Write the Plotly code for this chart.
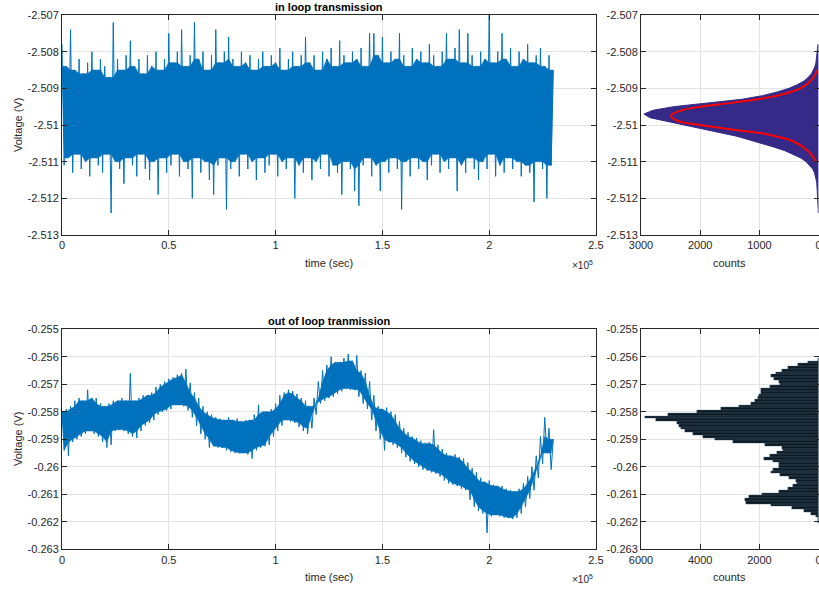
import numpy as np
import plotly.graph_objects as go

# ---------------- data ----------------
time_step_s = 1000  # sample spacing of the plotted series (s)

# in-loop transmission: alternating local maxima (even samples) / minima (odd samples), V
in_peaks = [-2.5078, -2.5084, -2.5074, -2.5085, -2.5082, -2.5086, -2.5083, -2.5080, -2.5085, -2.5082,
            -2.5084, -2.5087, -2.5072, -2.5082, -2.5085, -2.5081, -2.5077, -2.5084, -2.5082, -2.5086,
            -2.5081, -2.5084, -2.5080, -2.5085, -2.5082, -2.5075, -2.5083, -2.5080, -2.5074, -2.5084,
            -2.5081, -2.5072, -2.5082, -2.5080, -2.5085, -2.5081, -2.5074, -2.5083, -2.5080, -2.5076,
            -2.5082, -2.5084, -2.5080, -2.5083, -2.5081, -2.5085, -2.5082, -2.5080, -2.5084, -2.5081,
            -2.5083, -2.5079, -2.5085, -2.5082, -2.5080, -2.5084, -2.5081, -2.5076, -2.5083, -2.5081,
            -2.5085, -2.5080, -2.5082, -2.5079, -2.5084, -2.5077, -2.5081, -2.5083, -2.5080, -2.5082,
            -2.5079, -2.5084, -2.5075, -2.5075, -2.5081, -2.5076, -2.5083, -2.5080, -2.5082, -2.5075,
            -2.5081, -2.5084, -2.5079, -2.5082, -2.5080, -2.5083, -2.5078, -2.5081, -2.5084, -2.5080,
            -2.5075, -2.5082, -2.5079, -2.5074, -2.5083, -2.5075, -2.5081, -2.5084, -2.5080, -2.5082,
            -2.5070, -2.5083, -2.5080, -2.5075, -2.5082, -2.5079, -2.5084, -2.5080, -2.5082, -2.5078,
            -2.5083, -2.5081, -2.5079, -2.5084, -2.5081, -2.5085]
in_troughs = [-2.5111, -2.5109, -2.5113, -2.5108, -2.5112, -2.5110, -2.5114, -2.5109, -2.5111, -2.5113,
              -2.5108, -2.5124, -2.5110, -2.5112, -2.5116, -2.5109, -2.5111, -2.5114, -2.5108, -2.5112,
              -2.5115, -2.5110, -2.5119, -2.5109, -2.5113, -2.5111, -2.5108, -2.5114, -2.5110, -2.5112,
              -2.5120, -2.5109, -2.5113, -2.5110, -2.5115, -2.5119, -2.5111, -2.5109, -2.5123, -2.5112,
              -2.5110, -2.5114, -2.5108, -2.5112, -2.5110, -2.5115, -2.5109, -2.5113, -2.5111, -2.5108,
              -2.5114, -2.5110, -2.5112, -2.5109, -2.5120, -2.5111, -2.5113, -2.5109, -2.5115, -2.5110,
              -2.5112, -2.5108, -2.5114, -2.5111, -2.5113, -2.5119, -2.5110, -2.5112, -2.5118, -2.5122,
              -2.5111, -2.5109, -2.5114, -2.5111, -2.5118, -2.5110, -2.5113, -2.5109, -2.5112, -2.5123,
              -2.5110, -2.5114, -2.5109, -2.5112, -2.5110, -2.5115, -2.5111, -2.5108, -2.5113, -2.5110,
              -2.5112, -2.5109, -2.5118, -2.5111, -2.5113, -2.5109, -2.5112, -2.5115, -2.5110, -2.5112,
              -2.5108, -2.5114, -2.5111, -2.5113, -2.5109, -2.5112, -2.5110, -2.5114, -2.5111, -2.5113,
              -2.5121, -2.5110, -2.5112, -2.5120, -2.5111]

# out-of-loop transmission, V
out_peaks = [-0.25800, -0.25790, -0.25780, -0.25760, -0.25750, -0.25760, -0.25720, -0.25750, -0.25750, -0.25770,
             -0.25780, -0.25770, -0.25760, -0.25760, -0.25750, -0.25760, -0.25660, -0.25760, -0.25750, -0.25740,
             -0.25740, -0.25730, -0.25710, -0.25700, -0.25690, -0.25680, -0.25675, -0.25665, -0.25660, -0.25645,
             -0.25695, -0.25730, -0.25750, -0.25780, -0.25800, -0.25810, -0.25820, -0.25825, -0.25830, -0.25820,
             -0.25830, -0.25825, -0.25835, -0.25830, -0.25830, -0.25810, -0.25775, -0.25800, -0.25800, -0.25790,
             -0.25770, -0.25740, -0.25730, -0.25720, -0.25725, -0.25735, -0.25750, -0.25760, -0.25780, -0.25750,
             -0.25690, -0.25650, -0.25630, -0.25600, -0.25620, -0.25620, -0.25605, -0.25590, -0.25615, -0.25595,
             -0.25650, -0.25660, -0.25690, -0.25740, -0.25780, -0.25790, -0.25785, -0.25800, -0.25810, -0.25835,
             -0.25860, -0.25875, -0.25890, -0.25895, -0.25905, -0.25915, -0.25910, -0.25865, -0.25920, -0.25935,
             -0.25950, -0.25960, -0.25955, -0.25965, -0.25970, -0.25985, -0.26005, -0.26020, -0.26040, -0.26055,
             -0.26050, -0.26065, -0.26070, -0.26070, -0.26080, -0.26085, -0.26090, -0.26080, -0.26060, -0.26035,
             -0.26000, -0.25960, -0.25890, -0.25820, -0.25860, -0.25900]
out_troughs = [-0.25940, -0.25960, -0.25910, -0.25900, -0.25890, -0.25880, -0.25870, -0.25880, -0.25890, -0.25910,
               -0.25930, -0.25920, -0.25870, -0.25865, -0.25870, -0.25880, -0.25890, -0.25895, -0.25870, -0.25850,
               -0.25840, -0.25830, -0.25810, -0.25800, -0.25795, -0.25790, -0.25775, -0.25775, -0.25780, -0.25795,
               -0.25820, -0.25850, -0.25880, -0.25900, -0.25930, -0.25925, -0.25930, -0.25930, -0.25940, -0.25945,
               -0.25950, -0.25950, -0.25950, -0.25955, -0.25970, -0.25940, -0.25930, -0.25925, -0.25920, -0.25890,
               -0.25870, -0.25850, -0.25830, -0.25835, -0.25840, -0.25855, -0.25870, -0.25880, -0.25860, -0.25810,
               -0.25770, -0.25760, -0.25750, -0.25745, -0.25735, -0.25725, -0.25715, -0.25720, -0.25720, -0.25745,
               -0.25770, -0.25790, -0.25830, -0.25870, -0.25900, -0.25940, -0.25910, -0.25920, -0.25930, -0.25950,
               -0.25965, -0.25980, -0.25990, -0.26000, -0.26010, -0.26015, -0.26020, -0.26025, -0.26035, -0.26050,
               -0.26060, -0.26065, -0.26070, -0.26080, -0.26085, -0.26120, -0.26145, -0.26160, -0.26170, -0.26240,
               -0.26180, -0.26175, -0.26180, -0.26185, -0.26185, -0.26190, -0.26185, -0.26170, -0.26145, -0.26115,
               -0.26085, -0.26040, -0.25990, -0.25950, -0.26010]

# histogram of in-loop voltage (bin centres, counts)
in_hist_bins = [-2.5078, -2.5079, -2.5080, -2.5081, -2.5082, -2.5083, -2.5084, -2.5085, -2.5086, -2.5087,
                -2.5088, -2.5089, -2.5090, -2.5091, -2.5092, -2.5093, -2.5094, -2.5095, -2.5096, -2.5097,
                -2.5098, -2.5099, -2.5100, -2.5101, -2.5102, -2.5103, -2.5104, -2.5105, -2.5106, -2.5107,
                -2.5108, -2.5109, -2.5110, -2.5111, -2.5112, -2.5113, -2.5114, -2.5115, -2.5116, -2.5117,
                -2.5118, -2.5119, -2.5120, -2.5121, -2.5122, -2.5123, -2.5124]
in_hist_counts = [10, 15, 20, 25, 35, 45, 60, 85, 120, 175,
                  245, 360, 500, 700, 950, 1300, 1850, 2450, 2800, 2950,
                  2850, 2550, 2250, 1950, 1650, 1400, 1180, 960, 760, 570,
                  420, 300, 210, 150, 100, 70, 50, 40, 30, 25,
                  20, 15, 12, 10, 8, 6, 5]

# gaussian fit curve (read points)
fit_volts = [-2.5085, -2.5087, -2.5090, -2.50922, -2.50939, -2.5095, -2.50961, -2.50974,
             -2.50988, -2.5100, -2.51013, -2.51025, -2.51045, -2.51072, -2.5110]
fit_counts = [28, 85, 310, 760, 1435, 2000, 2335, 2493,
              2392, 2000, 1435, 872, 422, 169, 40]

# histogram of out-of-loop voltage
out_hist_bins = [-0.2561, -0.2562, -0.2563, -0.2564, -0.2565, -0.2566, -0.2567, -0.2568, -0.2569, -0.2570,
                 -0.2571, -0.2572, -0.2573, -0.2574, -0.2575, -0.2576, -0.2577, -0.2578, -0.2579, -0.2580,
                 -0.2581, -0.2582, -0.2583, -0.2584, -0.2585, -0.2586, -0.2587, -0.2588, -0.2589, -0.2590,
                 -0.2591, -0.2592, -0.2593, -0.2594, -0.2595, -0.2596, -0.2597, -0.2598, -0.2599, -0.2600,
                 -0.2601, -0.2602, -0.2603, -0.2604, -0.2605, -0.2606, -0.2607, -0.2608, -0.2609, -0.2610,
                 -0.2611, -0.2612, -0.2613, -0.2614, -0.2615, -0.2616, -0.2617, -0.2618, -0.2619, -0.2620]
out_hist_counts = [30, 350, 700, 1050, 1250, 1450, 1600, 1500, 1350, 1300,
                   1650, 1950, 1950, 2000, 2050, 2150, 2300, 2700, 3300, 4100,
                   5100, 5850, 5500, 4800, 4730, 4650, 4500, 4250, 3900, 3500,
                   2900, 1800, 1250, 1200, 1400, 1650, 1850, 1550, 1350, 1350,
                   1550, 1620, 1300, 1000, 780, 740, 850, 1050, 1350, 1900,
                   2350, 2500, 2450, 1600, 900, 500, 250, 90, 30, 10]
out_hist_width = 0.0001

# ticks
time_ticks = [0, 50000, 100000, 150000, 200000, 250000]
time_ticklabels = ["0", "0.5", "1", "1.5", "2", "2.5"]
in_vticks = [-2.507, -2.508, -2.509, -2.510, -2.511, -2.512, -2.513]
in_vticklabels = ["-2.507", "-2.508", "-2.509", "-2.51", "-2.511", "-2.512", "-2.513"]
out_vticks = [-0.255, -0.256, -0.257, -0.258, -0.259, -0.260, -0.261, -0.262, -0.263]
out_vticklabels = ["-0.255", "-0.256", "-0.257", "-0.258", "-0.259", "-0.26", "-0.261", "-0.262", "-0.263"]
in_cticks = [3000, 2000, 1000, 0]
out_cticks = [6000, 4000, 2000, 0]

# ---------------- figure ----------------
W, H = 819, 592
LINE = "#0072BD"
AX = "#262626"
GRID = "#e3e3e3"
FONT = "Liberation Sans, Arial, Helvetica, sans-serif"


def series(peaks, troughs):
    v = []
    for i, p in enumerate(peaks):
        v.append(p)
        if i < len(troughs):
            v.append(troughs[i])
    t = [i * time_step_s for i in range(len(v))]
    return t, v


def core(vals, lower_edge):
    # inner envelope: a sample only extends the solid band as far as its neighbours do
    out = []
    n = len(vals)
    for i in range(n):
        nb = vals[max(0, i - 1):min(n, i + 2)]
        out.append(max(nb) if lower_edge else min(nb))
    return out


fig = go.Figure()


def add_signal(peaks, troughs, xa, ya):
    t, v = series(peaks, troughs)
    tp = t[0::2]
    tt = t[1::2]
    up = core(peaks, False)
    lo = core(troughs, True)
    fig.add_trace(go.Scatter(x=tp + tt[::-1], y=up + lo[::-1],
                             fill="toself", fillcolor=LINE, mode="lines",
                             line=dict(width=0.5, color=LINE, simplify=False), xaxis=xa, yaxis=ya,
                             showlegend=False, hoverinfo="skip"))
    fig.add_trace(go.Scatter(x=t, y=v, mode="lines", line=dict(color=LINE, width=1, simplify=False),
                             xaxis=xa, yaxis=ya, showlegend=False))


add_signal(in_peaks, in_troughs, "x", "y")
add_signal(out_peaks, out_troughs, "x3", "y3")

# fine-binned histogram drawn as a filled outline (bins are denser than pixels in the original)
fig.add_trace(go.Scatter(y=in_hist_bins, x=in_hist_counts, mode="lines", fill="tozerox",
                         fillcolor="#352a87", line=dict(color="#352a87", width=1),
                         xaxis="x2", yaxis="y2", showlegend=False))
fig.add_trace(go.Scatter(x=fit_counts, y=fit_volts, mode="lines",
                         line=dict(color="#ff0000", width=2, shape="spline"),
                         xaxis="x2", yaxis="y2", showlegend=False))
fig.add_trace(go.Bar(y=out_hist_bins, x=out_hist_counts, orientation="h", width=out_hist_width,
                     marker=dict(color="#0c1822", line=dict(color="#4f6e84", width=0.4)),
                     xaxis="x4", yaxis="y4", showlegend=False))


def px(x):
    return x / W


def py(y):
    return (H - y) / H


L0, L1 = px(62), px(596)
R0, R1 = px(641), px(818.6)
T_TOP, T_BOT = py(15), py(235)
B_TOP, B_BOT = py(329.3), py(549.3)

common = dict(showline=True, linecolor=AX, linewidth=1, mirror="ticks", ticks="inside",
              ticklen=5, tickcolor=AX, showgrid=True, gridcolor=GRID, gridwidth=1,
              zeroline=False, tickfont=dict(family=FONT, size=11, color=AX), automargin=False,
              ticklabeloverflow="allow")

fig.update_layout(
    width=W, height=H, margin=dict(l=0, r=0, t=0, b=0),
    paper_bgcolor="white", plot_bgcolor="white", bargap=0, barmode="overlay",
    font=dict(family=FONT, size=11, color=AX),
    xaxis=dict(domain=[L0, L1], anchor="y", range=[0, 250000], tickvals=time_ticks,
               ticktext=time_ticklabels, **common),
    yaxis=dict(domain=[T_BOT, T_TOP], anchor="x", range=[-2.513, -2.507], tickvals=in_vticks,
               ticktext=in_vticklabels, **common),
    xaxis2=dict(domain=[R0, R1], anchor="y2", range=[3000, 0], tickvals=in_cticks,
                ticktext=[str(c) for c in in_cticks], **common),
    yaxis2=dict(domain=[T_BOT, T_TOP], anchor="x2", range=[-2.513, -2.507], tickvals=in_vticks,
                ticktext=in_vticklabels, **common),
    xaxis3=dict(domain=[L0, L1], anchor="y3", range=[0, 250000], tickvals=time_ticks,
                ticktext=time_ticklabels, **common),
    yaxis3=dict(domain=[B_BOT, B_TOP], anchor="x3", range=[-0.263, -0.255], tickvals=out_vticks,
                ticktext=out_vticklabels, **common),
    xaxis4=dict(domain=[R0, R1], anchor="y4", range=[6000, 0], tickvals=out_cticks,
                ticktext=[str(c) for c in out_cticks], **common),
    yaxis4=dict(domain=[B_BOT, B_TOP], anchor="x4", range=[-0.263, -0.255], tickvals=out_vticks,
                ticktext=out_vticklabels, **common),
)

ann = []


def text(x, y, s, size=11, bold=False, angle=0, xanchor="center"):
    ann.append(dict(x=px(x), y=py(y), xref="paper", yref="paper", text=("<b>%s</b>" % s) if bold else s,
                    showarrow=False, textangle=angle, xanchor=xanchor, yanchor="middle",
                    font=dict(family=FONT, size=size, color="#000000" if bold else AX)))


text(329, 7, "in loop transmission", bold=True)
text(329, 321, "out of loop tranmission", bold=True)
text(18, 125, "Voltage (V)", angle=-90)
text(18, 439, "Voltage (V)", angle=-90)
text(329, 263, "time (sec)")
text(329, 577, "time (sec)")
text(729, 263, "counts")
text(729, 577, "counts")
text(582, 265, "×10<sup>5</sup>", size=10)
text(582, 579, "×10<sup>5</sup>", size=10)
fig.update_layout(annotations=ann)

fig.write_html("out.html")
